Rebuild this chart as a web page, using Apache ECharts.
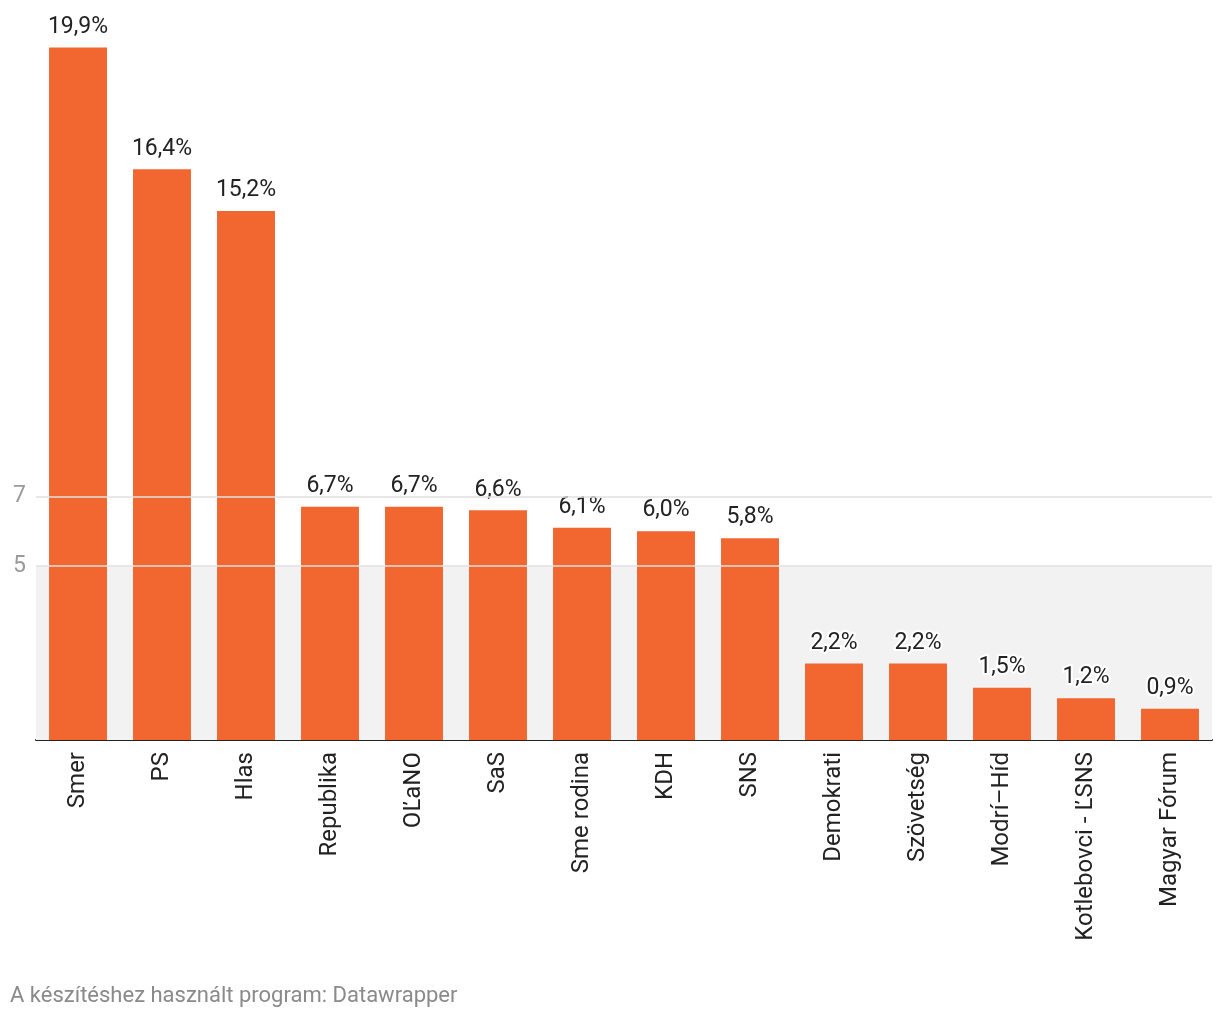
<!DOCTYPE html>
<html>
<head>
<meta charset="utf-8">
<script src="https://cdn.jsdelivr.net/npm/echarts@6/dist/echarts.min.js"></script>
<style>
html,body{margin:0;padding:0;background:#fff;}
#chart{width:1220px;height:1020px;}
</style>
</head>
<body>
<div id="chart"></div>
<script>
const categories = ['Smer','PS','Hlas','Republika','OĽaNO','SaS','Sme rodina','KDH','SNS','Demokrati','Szövetség','Modrí–Híd','Kotlebovci - ĽSNS','Magyar Fórum'];
const values = [19.9,16.4,15.2,6.7,6.7,6.6,6.1,6.0,5.8,2.2,2.2,1.5,1.2,0.9];
const yTickLabels = [5,7];
const footerText = 'A készítéshez használt program: Datawrapper';

const FONT = 'Roboto, "Noto Sans", sans-serif';
const chart = echarts.init(document.getElementById('chart'));
chart.setOption({
  animation:false,
  textStyle:{fontFamily:FONT},
  grid:{left:36,right:8,top:44,bottom:280},
  graphic:[{type:'text',left:10,top:985,style:{text:footerText,fill:'#8a8a8a',font:'22px '+FONT}}],
  xAxis:{
    type:'category',data:categories,
    axisLine:{show:true,lineStyle:{color:'#222',width:2}},
    axisTick:{show:false},
    axisLabel:{rotate:90,color:'#222',fontSize:24,fontFamily:FONT,margin:12,interval:0}
  },
  yAxis:{
    type:'value',min:0,max:20,interval:1,
    splitLine:{show:false},axisLine:{show:false},axisTick:{show:false},
    axisLabel:{color:'#9a9a9a',fontSize:23,fontFamily:FONT,margin:10,
      formatter:v=>yTickLabels.includes(v)?String(v):''}
  },
  series:[
    {type:'line',data:[],z:1,silent:true,
      markArea:{silent:true,itemStyle:{color:'#f2f2f2'},data:[[{yAxis:0},{yAxis:5}]]},
      markLine:{silent:true,symbol:'none',label:{show:false},
        lineStyle:{color:'#e0e0e0',type:'solid',width:1.5},
        data:yTickLabels.map(v=>({yAxis:v}))}
    },
    {type:'bar',data:values,z:2,barCategoryGap:'31%',
      itemStyle:{color:'#f26630'},
      label:{show:true,position:'top',distance:9,color:'#222',fontSize:23,fontFamily:FONT,
        textBorderColor:'#fff',textBorderWidth:4,
        formatter:p=>p.value.toFixed(1).replace('.',',')+'%'}
    }
  ]
});
</script>
</body>
</html>
